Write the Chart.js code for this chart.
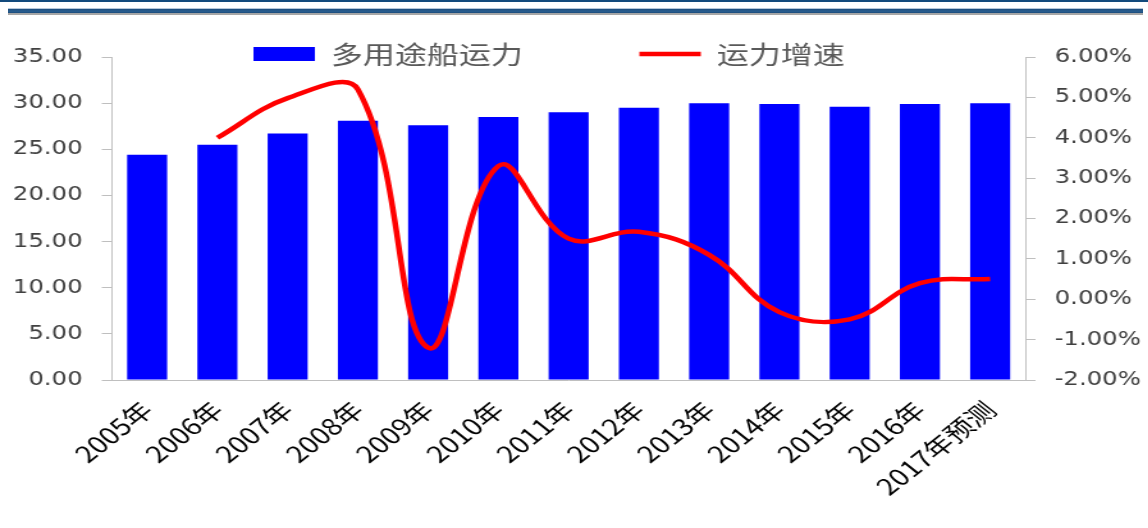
<!DOCTYPE html>
<html>
<head>
<meta charset="utf-8">
<script src="https://cdn.jsdelivr.net/npm/chart.js@4.4.1/dist/chart.umd.min.js"></script>
<style>
  html, body { margin: 0; padding: 0; background: #fff; }
  #page { position: relative; width: 1148px; height: 528px; overflow: hidden; }
  /* the reference is stretched sideways, so the chart is drawn narrow and scaled */
  #wrap { position: absolute; left: 0; top: 0; width: 897px; height: 528px;
          transform: scaleX(1.28); transform-origin: 0 0; }
  .band1 { position: absolute; left: 0; top: 0; width: 1148px; height: 2px; background: #124a7c; }
  .band2 { position: absolute; left: 8px; top: 8px; width: 1135px; height: 7px;
           background: linear-gradient(to bottom, #b7c8da 0%, #b7c8da 14%, #1a4b7b 15%, #2a5f90 45%,
                                       #1a4b7b 72%, #a6a6a6 73%, #a6a6a6 100%); }
</style>
</head>
<body>
<div id="page">
  <div id="wrap"><canvas id="chart"></canvas></div>
  <div class="band1"></div>
  <div class="band2"></div>
</div>
<script>
const years = ['2005年', '2006年', '2007年', '2008年', '2009年', '2010年', '2011年',
               '2012年', '2013年', '2014年', '2015年', '2016年', '2017年预测'];
const capacity = [24.4, 25.5, 26.7, 28.1, 27.6, 28.5, 29.0, 29.5, 30.0, 29.9, 29.6, 29.9, 30.0];
const growth = [null, 4.0, 4.98, 5.2, -1.2, 3.3, 1.5, 1.67, 1.1, -0.32, -0.5, 0.4, 0.5];
const capacityTicks = [0, 35, 5];   // min, max, step
const growthTicks = [-2, 6, 1];

const axisGrey = '#bfbfbf';
const tickFont = { family: 'DejaVu Sans', size: 19 };

// keep the legend out of the layout and put it where the reference has it
const legendSpot = {
  id: 'legendSpot',
  beforeLayout(chart) {
    const lg = chart.legend;
    if (lg && !lg.__flat) {
      const fit = lg.fit.bind(lg);
      lg.fit = function () { fit(); this.height = 0; };
      lg.__flat = true;
    }
  },
  afterLayout(chart) {
    const lg = chart.legend;
    const p = lg.options.labels.padding;
    const w = lg.right - lg.left;
    lg.left = 198 - p;
    lg.right = lg.left + w;
    lg.top = 41.5 - p;
    lg.height = 2 * p + 40;
    lg.bottom = lg.top + lg.height;
  }
};

new Chart(document.getElementById('chart'), {
  data: {
    labels: years,
    datasets: [
      {
        type: 'bar',
        label: '多用途船运力',
        data: capacity,
        yAxisID: 'y',
        backgroundColor: '#0000ff',
        barPercentage: 0.57,
        categoryPercentage: 1.0,
        pointStyle: 'rect',
        order: 1
      },
      {
        type: 'line',
        label: '运力增速',
        data: growth,
        yAxisID: 'y1',
        borderColor: '#ff0000',
        backgroundColor: '#ff0000',
        borderWidth: 4.5,
        tension: 0.4,
        pointRadius: 0,
        pointStyle: 'line',
        fill: false,
        order: 0
      }
    ]
  },
  options: {
    responsive: true,
    maintainAspectRatio: false,
    animation: false,
    layout: { padding: { top: 57, left: 0, right: 0, bottom: 0 } },
    plugins: {
      tooltip: { enabled: false },
      legend: {
        position: 'top',
        align: 'start',
        labels: {
          usePointStyle: true,
          pointStyleWidth: 48,
          boxHeight: 14,
          padding: 91,
          color: '#595959',
          font: { family: "'Noto Sans CJK SC'", size: 25 },
          sort: (a, b) => a.datasetIndex - b.datasetIndex
        }
      }
    },
    scales: {
      x: {
        offset: true,
        grid: { display: false },
        border: { display: true, color: axisGrey, width: 1 },
        ticks: {
          autoSkip: false,
          minRotation: 45,
          maxRotation: 45,
          padding: 8,
          color: '#000000',
          font: { family: "'Noto Sans CJK SC'", size: 23 }
        },
        afterFit(scale) { scale.height = 148; }
      },
      y: {
        position: 'left',
        min: capacityTicks[0],
        max: capacityTicks[1],
        ticks: {
          stepSize: capacityTicks[2],
          padding: 15,
          color: '#404040',
          font: tickFont,
          callback: v => v.toFixed(2)
        },
        grid: { drawOnChartArea: false, tickLength: 8, color: axisGrey },
        border: { color: axisGrey },
        afterFit(scale) { scale.width = 87.5; }
      },
      y1: {
        position: 'right',
        min: growthTicks[0],
        max: growthTicks[1],
        ticks: {
          stepSize: growthTicks[2],
          padding: 15,
          color: '#404040',
          font: tickFont,
          callback: v => v.toFixed(2) + '%'
        },
        grid: { drawOnChartArea: false, tickLength: 8, color: axisGrey },
        border: { color: axisGrey },
        afterFit(scale) { scale.width = 96; }
      }
    }
  },
  plugins: [legendSpot]
});
</script>
</body>
</html>
